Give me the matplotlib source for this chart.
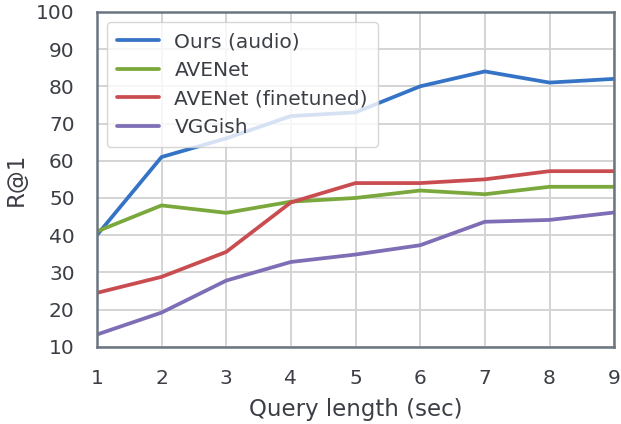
import numpy as np
import matplotlib
matplotlib.use('Agg')
import matplotlib.pyplot as plt
import seaborn as sns

sns.set_style('whitegrid')
plt.rcParams['font.family'] = ['DejaVu Sans']

# query length (sec)
query_len = [1, 2, 3, 4, 5, 6, 7, 8, 9]

# R@1 per method
ours_audio = [40, 61, 66, 72, 73, 80, 84, 81, 82]
avenet = [41, 48, 46, 49, 50, 52, 51, 53, 53]
avenet_ft = [24.5, 28.8, 35.5, 48.8, 54, 54, 55, 57.2, 57.2]
vggish = [13.3, 19.2, 27.8, 32.8, 34.8, 37.3, 43.6, 44.1, 46.1]

labels = ['Ours (audio)', 'AVENet', 'AVENet (finetuned)', 'VGGish']
colors = ['#3573c6', '#7aa83c', '#c94d50', '#7f6db5']
series = [ours_audio, avenet, avenet_ft, vggish]

text_col = '#3b3f45'
spine_col = '#6b7580'

fig = plt.figure(figsize=(6.21, 4.24), dpi=100)
ax = fig.add_axes([0.156, 0.182, 0.833, 0.790])

for vals, lab, col in zip(series, labels, colors):
    ax.plot(query_len, vals, color=col, linewidth=2.7, label=lab)

ax.set_xlim(1, 9)
ax.set_ylim(10, 100)
ax.set_xticks(query_len)
ax.set_yticks(np.arange(10, 101, 10))
ax.tick_params(axis='both', labelsize=14.5, pad=16, length=0, colors=text_col)
ax.grid(True, color='#d4d4d4', linewidth=1.4)

for sp in ax.spines.values():
    sp.set_color(spine_col)
    sp.set_linewidth(1.8)

ax.set_xlabel('Query length (sec)', fontsize=16.5, color=text_col, labelpad=7)
ax.set_ylabel('R@1', fontsize=16.5, color=text_col, labelpad=6)

leg = ax.legend(loc='upper left', fontsize=14.5, framealpha=0.8,
                handlelength=2.1, handletextpad=0.75, borderpad=0.5,
                labelspacing=0.48)
for t in leg.get_texts():
    t.set_color(text_col)

fig.savefig('out.png', dpi=100)
